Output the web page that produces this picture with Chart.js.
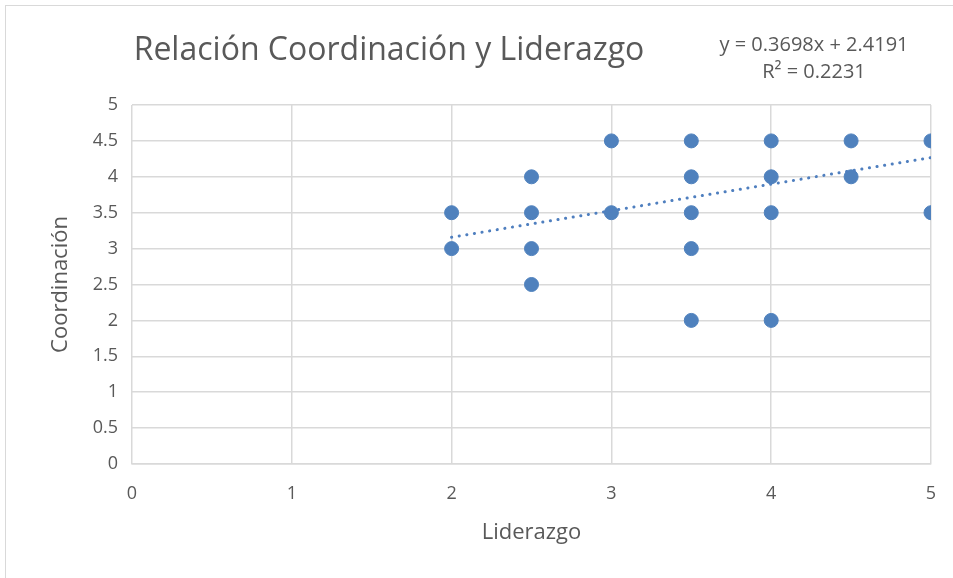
<!DOCTYPE html>
<html>
<head>
<meta charset="utf-8">
<script src="https://cdn.jsdelivr.net/npm/chart.js@4/dist/chart.umd.min.js"></script>
<style>
  html, body { margin: 0; padding: 0; background: #fff; }
  #wrap { width: 953px; height: 578px; position: relative; }
</style>
</head>
<body>
<div id="wrap"><canvas id="scatter" width="953" height="578"></canvas></div>
<script>
const liderazgo    = [2, 2, 2.5, 2.5, 2.5, 2.5, 3, 3, 3.5, 3.5, 3.5, 3.5, 3.5, 4, 4, 4, 4, 4.5, 4.5, 5, 5];
const coordinacion = [3.5, 3, 4, 3.5, 3, 2.5, 4.5, 3.5, 4.5, 4, 3.5, 3, 2, 4.5, 4, 3.5, 2, 4.5, 4, 4.5, 3.5];
const slope = 0.3698;
const intercept = 2.4191;
const trendX = [2, 5];

const titleText = "Relación Coordinación y Liderazgo";
const eqLines = ["y = 0.3698x + 2.4191", "R² = 0.2231"];
const fontFam = "'Open Sans', 'Noto Sans', sans-serif";
const textColor = "#595959";

const points = liderazgo.map((x, i) => ({ x, y: coordinacion[i] }));
const trend = trendX.map(x => ({ x, y: slope * x + intercept }));

// chart border, title and trendline label are drawn by hand
const frame = {
  id: "frame",
  beforeDraw(chart) {
    const c = chart.ctx;
    c.save();
    c.strokeStyle = "#d9d9d9";
    c.lineWidth = 1;
    c.strokeRect(5.5, 5.5, 1000, 1000);
    c.restore();
  },
  afterDraw(chart) {
    const c = chart.ctx;
    c.save();
    c.fillStyle = textColor;
    c.textBaseline = "middle";
    c.textAlign = "center";
    c.font = "32px " + fontFam;
    c.fillText(titleText, 389, 51);
    c.font = "20px " + fontFam;
    c.fillText(eqLines[0], 814, 45);
    c.fillText(eqLines[1], 814, 72);
    c.restore();
  }
};

new Chart(document.getElementById("scatter"), {
  type: "scatter",
  data: {
    datasets: [
      {
        label: "Coordinación",
        data: points,
        backgroundColor: "#4f81bd",
        borderColor: "#4f81bd",
        pointRadius: 7,
        pointHoverRadius: 7,
        order: 2
      },
      {
        type: "line",
        label: "Tendencia",
        data: trend,
        borderColor: "#4f7fbf",
        borderWidth: 3,
        borderDash: [0.1, 7.6],
        borderCapStyle: "round",
        pointRadius: 0,
        fill: false,
        order: 1
      }
    ]
  },
  options: {
    responsive: false,
    animation: false,
    layout: { padding: { left: 44, right: 22, top: 105, bottom: 28 } },
    plugins: {
      legend: { display: false },
      tooltip: { enabled: false }
    },
    scales: {
      x: {
        type: "linear",
        min: 0,
        max: 5,
        ticks: { stepSize: 1, color: textColor, font: { family: fontFam, size: 18 }, padding: 19 },
        grid: { color: "#d9d9d9", lineWidth: 1.5, drawTicks: false },
        border: { color: "#d9d9d9", width: 1.5 },
        title: { display: true, text: "Liderazgo", color: textColor, font: { family: fontFam, size: 22 }, padding: { top: 10 } },
        afterFit(s) { s.height = 86; s.paddingLeft = 0; s.paddingRight = 0; }
      },
      y: {
        min: 0,
        max: 5,
        ticks: {
          stepSize: 0.5,
          color: textColor,
          font: { family: fontFam, size: 18 },
          padding: 14,
          callback: v => String(v)
        },
        grid: { color: "#d9d9d9", lineWidth: 1.5, drawTicks: false },
        border: { display: false },
        title: { display: true, text: "Coordinación", color: textColor, font: { family: fontFam, size: 22 } },
        afterFit(s) { s.width = 88; s.paddingTop = 0; s.paddingBottom = 0; }
      }
    }
  },
  plugins: [frame]
});
</script>
</body>
</html>
